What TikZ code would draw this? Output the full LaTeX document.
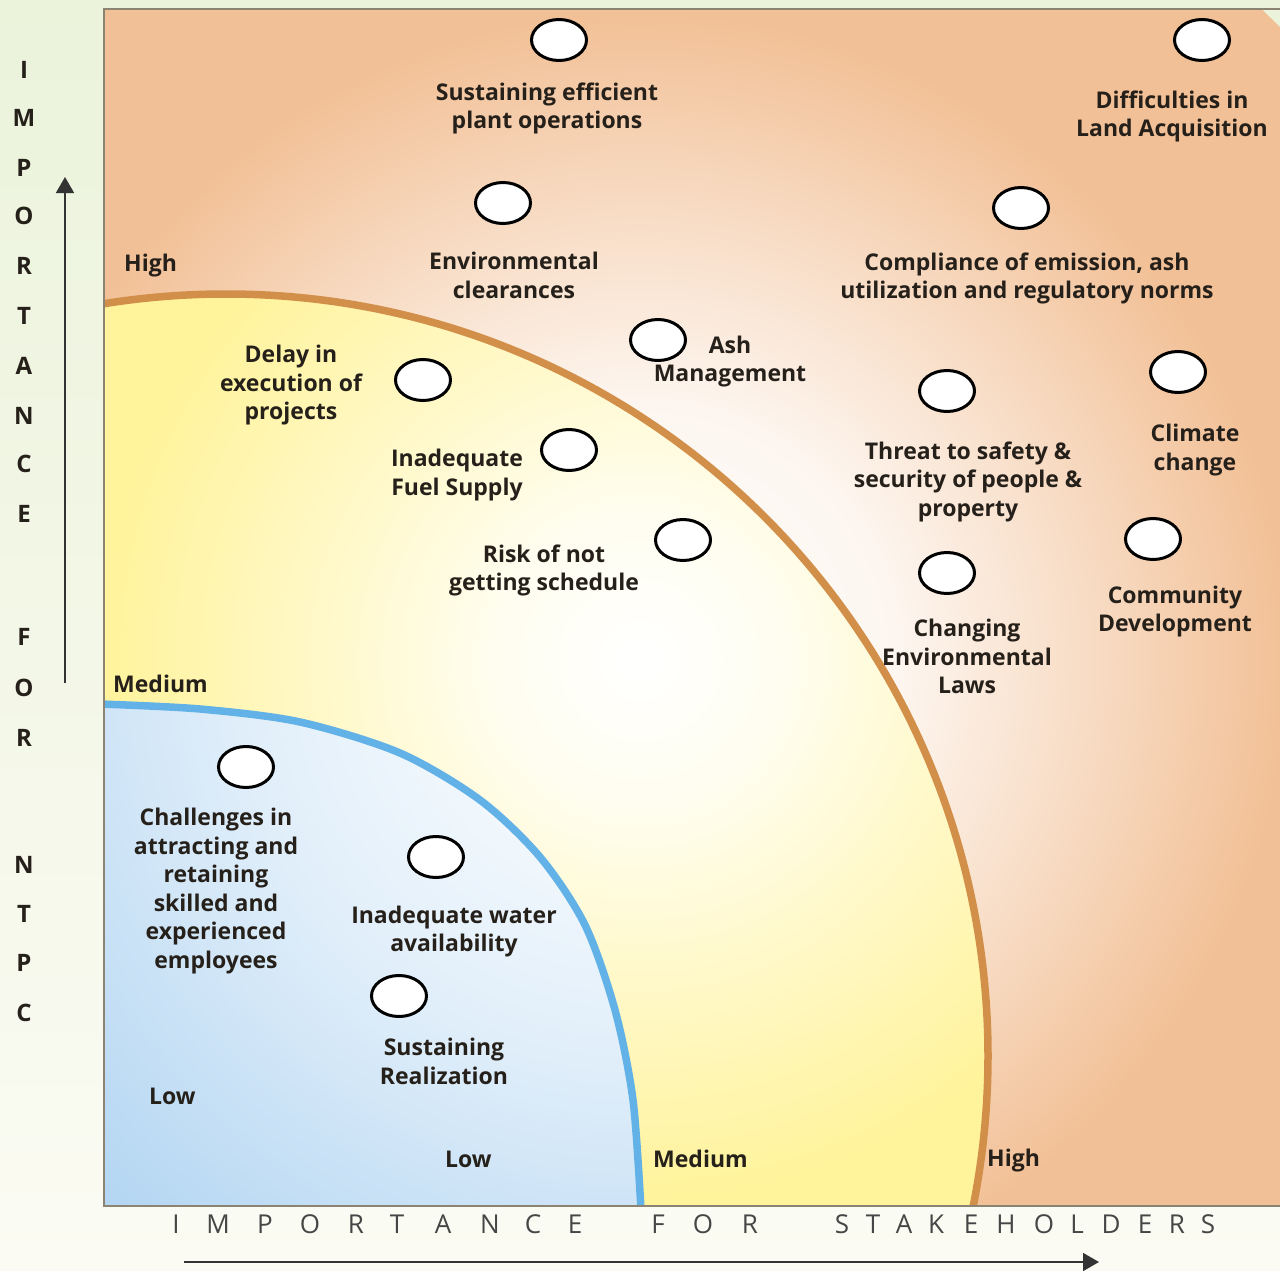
\documentclass[tikz,border=0pt]{standalone}
\usepackage{fontspec}
\setmainfont{Open Sans}
\usetikzlibrary{shapes.geometric,arrows.meta}
\definecolor{bgTop}{RGB}{235,243,219}
\definecolor{bgBot}{RGB}{251,251,243}
\definecolor{orF}{RGB}{242,192,150}
\definecolor{yeF}{RGB}{255,243,155}
\definecolor{blF}{RGB}{180,214,242}
\definecolor{orLine}{RGB}{210,143,74}
\definecolor{blLine}{RGB}{98,178,232}
\definecolor{txt}{RGB}{38,32,26}
\definecolor{axtxt}{RGB}{70,70,70}
\definecolor{frameC}{RGB}{140,132,115}
\pgfdeclareradialshading{orsh}{\pgfpoint{0bp}{0bp}}{color(0bp)=(white); color(7bp)=(orF!14!white); color(12bp)=(orF!52!white); color(18bp)=(orF); color(50bp)=(orF)}
\pgfdeclareradialshading{yesh}{\pgfpoint{0bp}{0bp}}{color(0bp)=(white); color(4bp)=(yeF!15!white); color(9bp)=(yeF!55!white); color(15bp)=(yeF); color(50bp)=(yeF)}
\pgfdeclareradialshading{blsh}{\pgfpoint{0bp}{0bp}}{color(0bp)=(white); color(5bp)=(blF!15!white); color(11bp)=(blF!40!white); color(21bp)=(blF); color(50bp)=(blF)}
\newcommand{\bluecurve}{(100,704) (200,709) (300,722) (400,753) (480,800) (540,857) (585,925) (615,1010) (633,1100) (641,1210)}
\begin{document}
\begin{tikzpicture}[x=1pt,y=-1pt,
  bubble/.style={ellipse,draw=black,line width=3pt,fill=white,minimum width=55pt,minimum height=41pt,inner sep=0pt},
  lab/.style={font=\bfseries\fontsize{23}{28.5}\selectfont,text=txt,align=center,inner sep=0pt},
  vax/.style={font=\bfseries\fontsize{24}{24}\selectfont,text=txt,inner sep=0pt},
  hax/.style={font=\fontsize{26}{26}\selectfont,text=axtxt,inner sep=0pt},
  axarrow/.style={draw=black!80,line width=1.6pt,-{Triangle[length=16pt,width=18pt]}}]
\useasboundingbox (0,0) rectangle (1280,1271);
\shade[top color=bgTop,bottom color=bgBot] (0,0) rectangle (1280,1271);
\begin{scope}
  \clip (104,9) rectangle (1280,1206);
  \shade[shading=orsh] (640,660) circle[radius=900pt];
  \begin{scope}
    \clip (226,1056) circle[radius=762pt];
    \shade[shading=yesh] (640,660) circle[radius=900pt];
  \end{scope}
  \begin{scope}
    \clip (90,1220) -- (90,704) -- plot[smooth] coordinates {\bluecurve} -- (650,1220) -- cycle;
    \shade[shading=blsh] (640,660) circle[radius=900pt];
  \end{scope}
  \draw[orLine,line width=7.5pt] (226,1056) circle[radius=762pt];
  \draw[blLine,line width=7.5pt] plot[smooth] coordinates {\bluecurve};
\end{scope}
\draw[frameC,line width=1.5pt] (1280,9) -- (104,9) -- (104,1206) -- (1280,1206);

% bubbles
\node[bubble] (b1) at (559,40) {};
\node[bubble] (b2) at (1202,40) {};
\node[bubble] (b3) at (503,203) {};
\node[bubble] (b4) at (1021,208) {};
\node[bubble] (b5) at (658,340) {};
\node[bubble] (b6) at (423,380) {};
\node[bubble] (b7) at (947,391) {};
\node[bubble] (b8) at (1178,372) {};
\node[bubble] (b9) at (569,450) {};
\node[bubble] (b10) at (683,540) {};
\node[bubble] (b11) at (1153,539) {};
\node[bubble] (b12) at (947,573) {};
\node[bubble] (b13) at (246,767) {};
\node[bubble] (b14) at (436,857) {};
\node[bubble] (b15) at (399,996) {};

% labels
\node[lab] (t1) at (547,108.5) {Sustaining efficient\\plant operations};
\node[lab] (t2) at (1172,116.5) {Difficulties in\\Land Acquisition};
\node[lab] (t3) at (514,275.5) {Environmental\\clearances};
\node[lab] (t4) at (1027,278.5) {Compliance of emission, ash\\utilization and regulatory norms};
\node[lab] (t5) at (730,361.5) {Ash\\Management};
\node[lab] (t6) at (291,385.5) {Delay in\\execution of\\projects};
\node[lab] (t7) at (457,475) {Inadequate\\Fuel Supply};
\node[lab] (t8) at (544,570.5) {Risk of not\\getting schedule};
\node[lab] (t9) at (968,481.5) {Threat to safety \&\\security of people \&\\property};
\node[lab] (t10) at (1195,450) {Climate\\change};
\node[lab] (t11) at (967,656.5) {Changing\\Environmental\\Laws};
\node[lab] (t12) at (1175,611.5) {Community\\Development};
\node[lab] (t13) at (216,891) {Challenges in\\attracting and\\retaining\\skilled and\\experienced\\employees};
\node[lab] (t14) at (454,931.5) {Inadequate water\\availability};
\node[lab] (t15) at (444,1061.5) {Sustaining\\Realization};

% level labels
\node[lab,anchor=west] (lH) at (124,266) {High};
\node[lab,anchor=west] (lM) at (113,684) {Medium};
\node[lab,anchor=west] (lL) at (149,1096) {Low};
\node[lab,anchor=west] (xL) at (445,1159) {Low};
\node[lab,anchor=west] (xM) at (653,1159) {Medium};
\node[lab,anchor=west] (xH) at (987,1161) {High};

% vertical axis title
\foreach \ch/\yy [count=\i] in {I/70,M/118,P/168,O/216,R/266,T/316,A/366,N/416,C/464,E/514,F/637,O/688,R/738,N/865,T/914,P/963,C/1013}
  \node[vax] (v\i) at (24,\yy) {\ch};

% horizontal axis title
\foreach \ch/\xx [count=\i] in {I/176,M/218,P/265,O/310,R/356,T/397,A/443,N/490,C/533,E/575,F/658,O/703,R/750,S/842,T/873,A/904,K/936,E/971,H/1006,O/1044,L/1077,D/1111,E/1145,R/1177,S/1208}
  \node[hax] (h\i) at (\xx,1224) {\ch};

% axis arrows
\coordinate (vS) at (65,683);
\coordinate (vE) at (65,177);
\draw[axarrow] (vS) -- (vE);
\coordinate (hS) at (184,1262);
\coordinate (hE) at (1099,1262);
\draw[axarrow] (hS) -- (hE);
\end{tikzpicture}
\end{document}
